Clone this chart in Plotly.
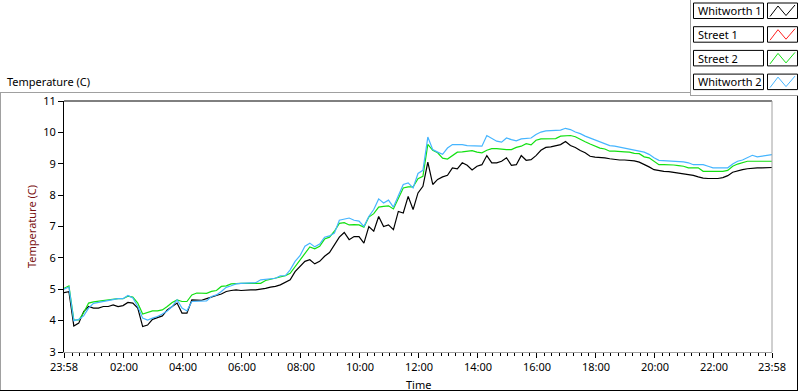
import pandas as pd
import plotly.graph_objects as go

# ---------------- data ----------------
series_names = ["Whitworth 1", "Street 1", "Street 2", "Whitworth 2"]
series_colors = ["#000000", "#ff2020", "#12e012", "#45b5ff"]

# sample times: minutes after the 23:58 start (10-minute logging grid)
minutes = list(range(0, 1441, 10))

whitworth_1 = [
    4.89, 4.92, 3.83, 3.92, 4.29, 4.45, 4.40, 4.40, 4.45, 4.45,
    4.50, 4.45, 4.48, 4.58, 4.56, 4.40, 3.81, 3.86, 4.04, 4.10,
    4.15, 4.34, 4.45, 4.56, 4.24, 4.24, 4.66, 4.66, 4.65, 4.70,
    4.74, 4.80, 4.85, 4.93, 4.96, 4.98, 4.96, 4.98, 4.98, 4.98,
    5.00, 5.03, 5.07, 5.09, 5.14, 5.21, 5.30, 5.56, 5.73, 5.89,
    5.94, 5.81, 5.89, 6.05, 6.17, 6.42, 6.66, 6.81, 6.58, 6.68,
    6.68, 6.47, 7.00, 6.85, 7.32, 7.00, 7.05, 6.90, 7.48, 7.43,
    7.96, 7.54, 8.07, 8.28, 9.05, 8.34, 8.50, 8.58, 8.63, 8.87,
    8.84, 9.03, 8.95, 8.80, 8.92, 8.97, 9.26, 9.03, 9.03, 9.08,
    9.19, 8.95, 8.97, 9.26, 9.11, 9.13, 9.26, 9.43, 9.52, 9.54,
    9.58, 9.61, 9.71, 9.58, 9.52, 9.42, 9.35, 9.24, 9.21, 9.21,
    9.19, 9.16, 9.13, 9.12, 9.12, 9.11, 9.09, 9.05, 8.98, 8.90,
    8.81, 8.78, 8.76, 8.75, 8.73, 8.71, 8.69, 8.65, 8.63, 8.58,
    8.54, 8.53, 8.52, 8.53, 8.56, 8.62, 8.73, 8.78, 8.81, 8.84,
    8.86, 8.87, 8.87, 8.88, 8.88,
]

street_1 = [None] * len(minutes)  # no visible trace in the reference

street_2 = [
    5.03, 5.11, 4.02, 4.02, 4.25, 4.56, 4.60, 4.62, 4.65, 4.67,
    4.70, 4.70, 4.70, 4.78, 4.75, 4.56, 4.21, 4.25, 4.31, 4.31,
    4.34, 4.45, 4.58, 4.66, 4.61, 4.61, 4.82, 4.88, 4.88, 4.87,
    4.93, 4.96, 5.09, 5.11, 5.17, 5.19, 5.19, 5.19, 5.19, 5.19,
    5.19, 5.28, 5.32, 5.35, 5.41, 5.43, 5.51, 5.73, 5.94, 6.15,
    6.35, 6.29, 6.37, 6.60, 6.66, 6.85, 7.10, 7.12, 7.05, 7.06,
    7.05, 6.98, 7.30, 7.41, 7.62, 7.64, 7.66, 7.56, 7.91, 8.23,
    8.26, 8.26, 8.52, 8.60, 9.62, 9.43, 9.35, 9.18, 9.15, 9.26,
    9.37, 9.38, 9.41, 9.42, 9.37, 9.35, 9.43, 9.48, 9.48, 9.46,
    9.45, 9.45, 9.52, 9.56, 9.64, 9.60, 9.75, 9.79, 9.79, 9.79,
    9.80, 9.88, 9.90, 9.90, 9.86, 9.77, 9.70, 9.63, 9.56, 9.50,
    9.47, 9.40, 9.40, 9.40, 9.38, 9.37, 9.33, 9.32, 9.22, 9.19,
    9.08, 8.97, 8.97, 8.97, 8.96, 8.94, 8.92, 8.87, 8.87, 8.87,
    8.76, 8.76, 8.76, 8.76, 8.76, 8.79, 8.92, 8.99, 9.03, 9.08,
    9.08, 9.08, 9.08, 9.08, 9.08,
]

whitworth_2 = [
    5.00, 5.07, 4.00, 4.04, 4.15, 4.40, 4.55, 4.58, 4.62, 4.65,
    4.67, 4.70, 4.70, 4.80, 4.72, 4.45, 4.08, 4.02, 4.08, 4.13,
    4.21, 4.31, 4.45, 4.66, 4.40, 4.31, 4.61, 4.61, 4.61, 4.63,
    4.77, 4.82, 4.93, 5.06, 5.11, 5.17, 5.19, 5.19, 5.19, 5.21,
    5.30, 5.32, 5.34, 5.35, 5.43, 5.43, 5.62, 5.89, 6.07, 6.37,
    6.47, 6.35, 6.44, 6.66, 6.70, 6.79, 7.20, 7.24, 7.27, 7.20,
    7.17, 7.00, 7.32, 7.54, 7.88, 7.75, 7.84, 7.62, 7.99, 8.34,
    8.39, 8.23, 8.69, 8.79, 9.85, 9.45, 9.37, 9.30, 9.50, 9.61,
    9.61, 9.61, 9.58, 9.58, 9.56, 9.56, 9.90, 9.80, 9.72, 9.69,
    9.82, 9.77, 9.73, 9.79, 9.80, 9.82, 9.93, 10.01, 10.05, 10.06,
    10.06, 10.07, 10.13, 10.09, 10.01, 9.96, 9.88, 9.82, 9.74, 9.68,
    9.64, 9.58, 9.56, 9.53, 9.48, 9.45, 9.42, 9.40, 9.37, 9.30,
    9.19, 9.11, 9.10, 9.10, 9.10, 9.08, 9.06, 9.03, 8.97, 8.97,
    8.97, 8.92, 8.87, 8.87, 8.87, 8.87, 8.99, 9.08, 9.12, 9.19,
    9.27, 9.22, 9.24, 9.27, 9.29,
]

x_tick_labels = ["23:58", "02:00", "04:00", "06:00", "08:00", "10:00", "12:00",
                 "14:00", "16:00", "18:00", "20:00", "22:00", "23:58"]
y_tick_values = [3, 4, 5, 6, 7, 8, 9, 10, 11]

chart_title = "Temperature (C)"
y_title = "Temperature (C)"
x_title = "Time"

# ---------------- build ----------------
start = pd.Timestamp("2000-01-01 23:58")
end = start + pd.Timedelta(minutes=1440)
times = [start + pd.Timedelta(minutes=m) for m in minutes]

tickvals = []
for i, lab in enumerate(x_tick_labels):
    if i == 0:
        tickvals.append(start)
    elif i == len(x_tick_labels) - 1:
        tickvals.append(end)
    else:
        h, mm = map(int, lab.split(":"))
        tickvals.append(pd.Timestamp(2000, 1, 2, h, mm))

minor_vals = [t for t in pd.date_range("2000-01-02 00:15", "2000-01-02 23:45", freq="15min")
              if not (t.minute == 0 and t.hour % 2 == 0)]

all_series = [whitworth_1, street_1, street_2, whitworth_2]

fig = go.Figure()
for name, col, vals in zip(series_names, series_colors, all_series):
    fig.add_trace(go.Scatter(x=times, y=vals, mode="lines", name=name,
                             line=dict(color=col, width=1.2), connectgaps=False))

W, H = 800, 392
L, R, T, B = 64, 772, 101, 352


def px(xp):
    return (xp - L) / (R - L)


def py(yp):
    return (B - yp) / (B - T)


FONT = "Noto Sans"
fig.update_layout(
    width=W, height=H,
    margin=dict(l=L, r=W - R, t=T, b=H - B, pad=0),
    plot_bgcolor="white", paper_bgcolor="white",
    showlegend=False,
    font=dict(family=FONT, size=11, color="black"),
    xaxis=dict(
        type="date", range=[start, end],
        tickmode="array", tickvals=tickvals, ticktext=x_tick_labels,
        ticks="outside", ticklen=5, tickwidth=1, tickcolor="black",
        showgrid=False, zeroline=False,
        showline=True, linecolor="#a0a0a0", linewidth=1,
        minor=dict(tickmode="array", tickvals=minor_vals, ticks="outside",
                   ticklen=3, tickcolor="black", tickwidth=1, showgrid=False),
        tickfont=dict(family=FONT, size=11, color="black"),
    ),
    yaxis=dict(
        range=[3, 11], tickmode="array", tickvals=y_tick_values,
        ticks="outside", ticklen=5, tickwidth=1, tickcolor="black",
        showgrid=False, zeroline=False,
        showline=True, linecolor="black", linewidth=1,
        tickfont=dict(family=FONT, size=11, color="black"),
    ),
)

shapes = []
# plot area top (black) and right (grey) edges
shapes.append(dict(type="line", xref="paper", yref="paper", x0=0, x1=1, y0=1, y1=1,
                   line=dict(color="black", width=1)))
shapes.append(dict(type="line", xref="paper", yref="paper", x0=1, x1=1, y0=0, y1=1,
                   line=dict(color="#a0a0a0", width=1)))
# outer frame
shapes.append(dict(type="line", xref="paper", yref="paper", x0=px(0), x1=px(690),
                   y0=py(92.5), y1=py(92.5), line=dict(color="#a0a0a0", width=1)))
shapes.append(dict(type="line", xref="paper", yref="paper", x0=px(0.5), x1=px(0.5),
                   y0=py(92.5), y1=py(390.5), line=dict(color="#a0a0a0", width=1)))
shapes.append(dict(type="line", xref="paper", yref="paper", x0=px(0), x1=px(798),
                   y0=py(390.5), y1=py(390.5), line=dict(color="black", width=1)))
shapes.append(dict(type="line", xref="paper", yref="paper", x0=px(797.5), x1=px(797.5),
                   y0=py(95.5), y1=py(390.5), line=dict(color="black", width=1)))
# legend area border
shapes.append(dict(type="line", xref="paper", yref="paper", x0=px(690.5), x1=px(690.5),
                   y0=py(0), y1=py(95.5), line=dict(color="#a0a0a0", width=1)))
shapes.append(dict(type="line", xref="paper", yref="paper", x0=px(690), x1=px(798),
                   y0=py(95.5), y1=py(95.5), line=dict(color="#a0a0a0", width=1)))

annotations = []
for i, (name, col) in enumerate(zip(series_names, series_colors)):
    top = 3 + i * 23.7
    bot = top + 15.5
    shapes.append(dict(type="rect", xref="paper", yref="paper",
                       x0=px(693.5), x1=px(763.5), y0=py(bot), y1=py(top),
                       line=dict(color="black", width=1), fillcolor="white"))
    shapes.append(dict(type="rect", xref="paper", yref="paper",
                       x0=px(767.5), x1=px(797.5), y0=py(bot), y1=py(top),
                       line=dict(color="black", width=1), fillcolor="white"))
    zz = [(770, bot - 2), (778, top + 3), (786, bot - 3), (795, top + 2)]
    path = "M " + " L ".join(f"{px(a)},{py(b)}" for a, b in zz)
    shapes.append(dict(type="path", xref="paper", yref="paper", path=path,
                       line=dict(color=col, width=1)))
    annotations.append(dict(xref="paper", yref="paper", x=px(696), y=py((top + bot) / 2),
                            xanchor="left", yanchor="middle", text=name, showarrow=False,
                            font=dict(family=FONT, size=11, color="black")))

annotations.append(dict(xref="paper", yref="paper", x=px(5), y=py(81), xanchor="left",
                        yanchor="middle", text=chart_title, showarrow=False,
                        font=dict(family=FONT, size=11, color="black")))
annotations.append(dict(xref="paper", yref="paper", x=px(31), y=py(227), xanchor="center",
                        yanchor="middle", text=y_title, textangle=-90, showarrow=False,
                        font=dict(family=FONT, size=11, color="#7a1010")))
annotations.append(dict(xref="paper", yref="paper", x=px(418), y=py(384), xanchor="center",
                        yanchor="middle", text=x_title, showarrow=False,
                        font=dict(family=FONT, size=11, color="black")))

fig.update_layout(shapes=shapes, annotations=annotations)
fig.write_html("out.html",
               config={"displayModeBar": False, "staticPlot": True},
               post_script="document.body.style.margin='0';document.body.style.overflow='hidden';")
